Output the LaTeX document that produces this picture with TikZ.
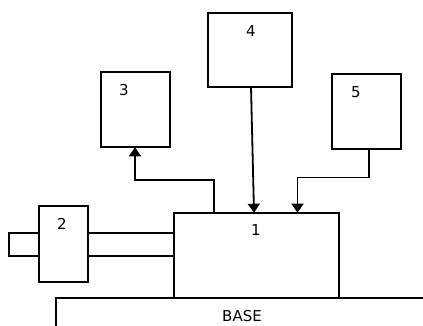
\documentclass[tikz,border=0pt]{standalone}
\usepackage{fontspec}
\setmainfont{DejaVu Sans}
\usetikzlibrary{arrows.meta}
\begin{document}
\begin{tikzpicture}[x=1pt,y=-1pt,
  line width=1.8pt,
  part/.style={draw, fill=white, rectangle, inner sep=0pt, outer sep=0pt},
  tag/.style={font=\fontsize{15}{17}\selectfont, inner sep=0pt},
  flow/.style={-{Triangle[width=12pt,length=9pt]}, line join=miter}]
\useasboundingbox (0,0) rectangle (423,325);
% shaft passing through part 2 into part 1
\node[part, minimum width=164.2pt, minimum height=23.6pt] (shaft) at (91.4,244.5) {};
% parts
\node[part, minimum width=164.7pt, minimum height=85pt] (b1) at (256.3,255.2) {};
\node[part, minimum width=49pt, minimum height=76pt] (b2) at (63.5,243.7) {};
\node[part, minimum width=69pt, minimum height=75pt] (b3) at (135.5,109.8) {};
\node[part, minimum width=84.6pt, minimum height=73.4pt] (b4) at (250,50) {};
\node[part, minimum width=69.3pt, minimum height=75pt] (b5) at (366.3,111.8) {};
% numbers
\node[tag] (t1) at (256,230) {1};
\node[tag] (t2) at (62,224) {2};
\node[tag] (t3) at (124,90) {3};
\node[tag] (t4) at (251,31) {4};
\node[tag] (t5) at (356,92) {5};
% base
\coordinate (baseA) at (55.7,330);
\coordinate (baseB) at (55.7,297.7);
\coordinate (baseC) at (430,297.7);
\draw (baseA) -- (baseB) -- (baseC);
\node[tag] (tbase) at (242,316) {BASE};
% connectors
\coordinate (o1) at (b1.north -| 214.3,0);
\coordinate (k1) at (214.3,180);
\coordinate (k2) at (135,180);
\draw[flow] (o1) -- (k1) -- (k2) -- (b3.south -| k2);
\coordinate (i4a) at (b4.south -| 251,0);
\coordinate (i4b) at (b1.north -| 254,0);
\draw[flow] (i4a) -- (i4b);
\coordinate (o5) at (b5.south -| 369.3,0);
\coordinate (k3) at (369.3,177.5);
\coordinate (k4) at (297.5,177.5);
\draw[flow] (o5) -- (k3) -- (k4) -- (b1.north -| k4);
\end{tikzpicture}
\end{document}
